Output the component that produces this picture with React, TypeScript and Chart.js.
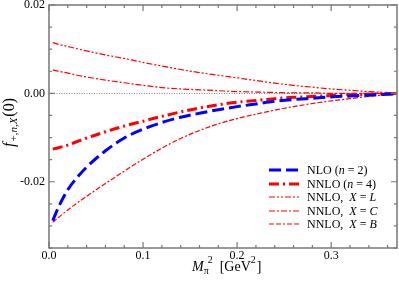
import React, { useEffect, useRef } from "react";
import { Chart, registerables } from "chart.js";

Chart.register(...registerables);

const xs = [0.004, 0.01, 0.02, 0.03, 0.04, 0.06, 0.08, 0.1, 0.12, 0.14, 0.16, 0.18, 0.2, 0.22, 0.24, 0.26, 0.28, 0.3, 0.32, 0.34, 0.36, 0.37];
const nlo = [-0.0288, -0.0258, -0.0218, -0.019, -0.0167, -0.013, -0.0101, -0.0081, -0.0066, -0.0054, -0.0045, -0.0037, -0.003, -0.0024, -0.0018, -0.0014, -0.0011, -0.0008, -0.0006, -0.0004, -0.0002, -0.0001];
const nnlo4 = [-0.0126, -0.0123, -0.0117, -0.0109, -0.0101, -0.0087, -0.0074, -0.0063, -0.0052, -0.0042, -0.0033, -0.0026, -0.002, -0.0016, -0.0012, -0.0009, -0.0007, -0.0005, -0.0003, -0.0002, -0.0001, 0];
const nnloL = [0.0115, 0.0111, 0.0106, 0.0101, 0.0096, 0.0087, 0.0079, 0.007, 0.0062, 0.0054, 0.0047, 0.0041, 0.0035, 0.0029, 0.0023, 0.0018, 0.0014, 0.001, 0.0007, 0.0004, 0.0002, 0.0001];
const nnloC = [0.0053, 0.005, 0.0046, 0.0041, 0.0037, 0.003, 0.0024, 0.0018, 0.0013, 0.001, 0.0008, 0.0006, 0.0004, 0.0003, 0.0002, 0.0001, 0.0001, 0, 0, 0, 0, 0];
const nnloB = [-0.0292, -0.0281, -0.0264, -0.0248, -0.0233, -0.0204, -0.0176, -0.0149, -0.0124, -0.0102, -0.0084, -0.0069, -0.0057, -0.0047, -0.0038, -0.003, -0.0023, -0.0017, -0.0012, -0.0007, -0.0003, -0.0001];

const xMajor = [0, 0.1, 0.2, 0.3];
const xLabels = ["0.0", "0.1", "0.2", "0.3"];
const yMajor = [-0.02, 0, 0.02];
const yLabels = ["-0.02", "0.00", "0.02"];

const SERIF = "'Liberation Serif', 'Times New Roman', 'DejaVu Serif', serif";
const BLUE = "#0000ff";
const RED = "#ff0000";

type Style = { color: string; width: number; dash: number[] };
const styles: Style[] = [
  { color: BLUE, width: 3, dash: [12, 5] },
  { color: RED, width: 3, dash: [10, 4, 2, 4] },
  { color: RED, width: 1.2, dash: [6, 2, 2, 2, 2, 2] },
  { color: RED, width: 1.2, dash: [6, 2, 2, 2] },
  { color: RED, width: 1.2, dash: [5, 2, 5, 2, 2, 2] },
];
const seriesList = [nlo, nnlo4, nnloL, nnloC, nnloB];

const legendRows: [string, boolean][][] = [
  [["NLO (", false], ["n", true], [" = 2)", false]],
  [["NNLO (", false], ["n", true], [" = 4)", false]],
  [["NNLO,  ", false], ["X", true], [" = ", false], ["L", true]],
  [["NNLO,  ", false], ["X", true], [" = ", false], ["C", true]],
  [["NNLO,  ", false], ["X", true], [" = ", false], ["B", true]],
];

const framePlugin = {
  id: "frame",
  beforeDatasetsDraw(chart: any) {
    const { ctx, chartArea: a, scales } = chart;
    const y0 = scales.y.getPixelForValue(0);
    ctx.save();
    ctx.strokeStyle = "#888";
    ctx.lineWidth = 1;
    ctx.setLineDash([1, 1.5]);
    ctx.beginPath();
    ctx.moveTo(a.left, Math.round(y0) + 0.5);
    ctx.lineTo(a.right, Math.round(y0) + 0.5);
    ctx.stroke();
    ctx.restore();
  },
  afterDraw(chart: any) {
    const { ctx, chartArea: a, scales } = chart;
    const sx = scales.x;
    const sy = scales.y;
    ctx.save();
    ctx.strokeStyle = "#777";
    ctx.lineWidth = 1.5;
    ctx.setLineDash([]);
    ctx.strokeRect(a.left, a.top, a.right - a.left, a.bottom - a.top);
    ctx.lineWidth = 1.2;
    ctx.beginPath();
    for (let i = 0; i <= 18; i++) {
      const v = i * 0.02;
      const px = sx.getPixelForValue(v);
      const isMajor = xMajor.some((m) => Math.abs(m - v) < 1e-9);
      const len = isMajor ? 6 : 3;
      ctx.moveTo(px, a.bottom);
      ctx.lineTo(px, a.bottom - len);
      ctx.moveTo(px, a.top);
      ctx.lineTo(px, a.top + len);
    }
    for (let i = 0; i <= 11; i++) {
      const v = -0.035 + i * 0.005;
      const py = sy.getPixelForValue(v);
      const isMajor = yMajor.some((m) => Math.abs(m - v) < 1e-9);
      const len = isMajor ? 6 : 3;
      ctx.moveTo(a.left, py);
      ctx.lineTo(a.left + len, py);
      ctx.moveTo(a.right, py);
      ctx.lineTo(a.right - len, py);
    }
    ctx.stroke();

    // tick labels
    ctx.fillStyle = "#000";
    ctx.font = `12px ${SERIF}`;
    ctx.textAlign = "right";
    ctx.textBaseline = "middle";
    yMajor.forEach((v, i) => {
      ctx.fillText(yLabels[i], a.left - 4, sy.getPixelForValue(v));
    });
    ctx.textAlign = "center";
    ctx.textBaseline = "top";
    xMajor.forEach((v, i) => {
      ctx.fillText(xLabels[i], sx.getPixelForValue(v), a.bottom + 2);
    });
    ctx.textAlign = "left";

    // legend
    const lx0 = 269, lx1 = 300, tx = 307;
    const rowY = [170, 184, 197, 211, 224];
    ctx.textBaseline = "middle";
    legendRows.forEach((row, i) => {
      const st = styles[i];
      ctx.strokeStyle = st.color;
      ctx.lineWidth = st.width;
      ctx.setLineDash(st.dash);
      ctx.beginPath();
      ctx.moveTo(lx0, rowY[i]);
      ctx.lineTo(lx1, rowY[i]);
      ctx.stroke();
      ctx.setLineDash([]);
      let x = tx;
      row.forEach(([t, it]) => {
        ctx.font = `${it ? "italic " : ""}12px ${SERIF}`;
        ctx.fillText(t, x, rowY[i] + 1);
        x += ctx.measureText(t).width;
      });
    });

    // x axis title
    ctx.textBaseline = "alphabetic";
    let x = 192;
    const base = 271;
    ctx.font = `italic 14px ${SERIF}`;
    ctx.fillText("M", x, base);
    x += ctx.measureText("M").width;
    ctx.font = `10px ${SERIF}`;
    ctx.fillText("π", x, base + 3);
    ctx.fillText("2", x + 4, base - 8);
    x += ctx.measureText("π").width + 4;
    ctx.font = `14px ${SERIF}`;
    ctx.fillText("  [GeV", x, base);
    x += ctx.measureText("  [GeV").width;
    ctx.font = `10px ${SERIF}`;
    ctx.fillText("2", x, base - 8);
    x += ctx.measureText("2").width + 1;
    ctx.font = `14px ${SERIF}`;
    ctx.fillText("]", x, base);

    // y axis title
    ctx.save();
    ctx.translate(14, 147);
    ctx.rotate(-Math.PI / 2);
    let yx = 0;
    ctx.font = `italic 16px ${SERIF}`;
    ctx.fillText("f", yx, 0);
    yx += ctx.measureText("f").width + 1;
    const subs: [string, boolean][] = [["+,", false], ["n", true], [",", false], ["X", true]];
    subs.forEach(([t, it]) => {
      ctx.font = `${it ? "italic " : ""}11px ${SERIF}`;
      ctx.fillText(t, yx, 3);
      yx += ctx.measureText(t).width;
    });
    ctx.font = `16px ${SERIF}`;
    ctx.fillText("(0)", yx + 1, 0);
    ctx.restore();

    ctx.restore();
  },
};

export default function App() {
  const ref = useRef<HTMLCanvasElement>(null);
  useEffect(() => {
    if (!ref.current) return;
    const datasets = seriesList.map((s, i) => ({
      data: xs.map((x, j) => ({ x, y: s[j] })),
      borderColor: styles[i].color,
      borderWidth: styles[i].width,
      borderDash: styles[i].dash,
      pointRadius: 0,
      fill: false,
      cubicInterpolationMode: "monotone" as const,
    }));
    const chart = new Chart(ref.current, {
      type: "line",
      data: { datasets },
      options: {
        animation: false,
        responsive: false,
        devicePixelRatio: 1,
        layout: { padding: { top: 5, right: 2, left: 0, bottom: 0 } },
        plugins: { legend: { display: false }, tooltip: { enabled: false } },
        scales: {
          x: {
            type: "linear",
            min: 0,
            max: 0.37,
            grid: { display: false, drawTicks: false },
            border: { display: false },
            ticks: { display: false },
            afterFit: (s: any) => {
              s.height = 37;
            },
          },
          y: {
            type: "linear",
            min: -0.035,
            max: 0.02,
            grid: { display: false, drawTicks: false },
            border: { display: false },
            ticks: { display: false },
            afterFit: (s: any) => {
              s.width = 49;
            },
          },
        },
      },
      plugins: [framePlugin],
    });
    return () => chart.destroy();
  }, []);
  return (
    <div style={{ position: "absolute", left: 0, top: 0, width: 399, height: 285, background: "#fff" }}>
      <canvas ref={ref} width={399} height={285} />
    </div>
  );
}
